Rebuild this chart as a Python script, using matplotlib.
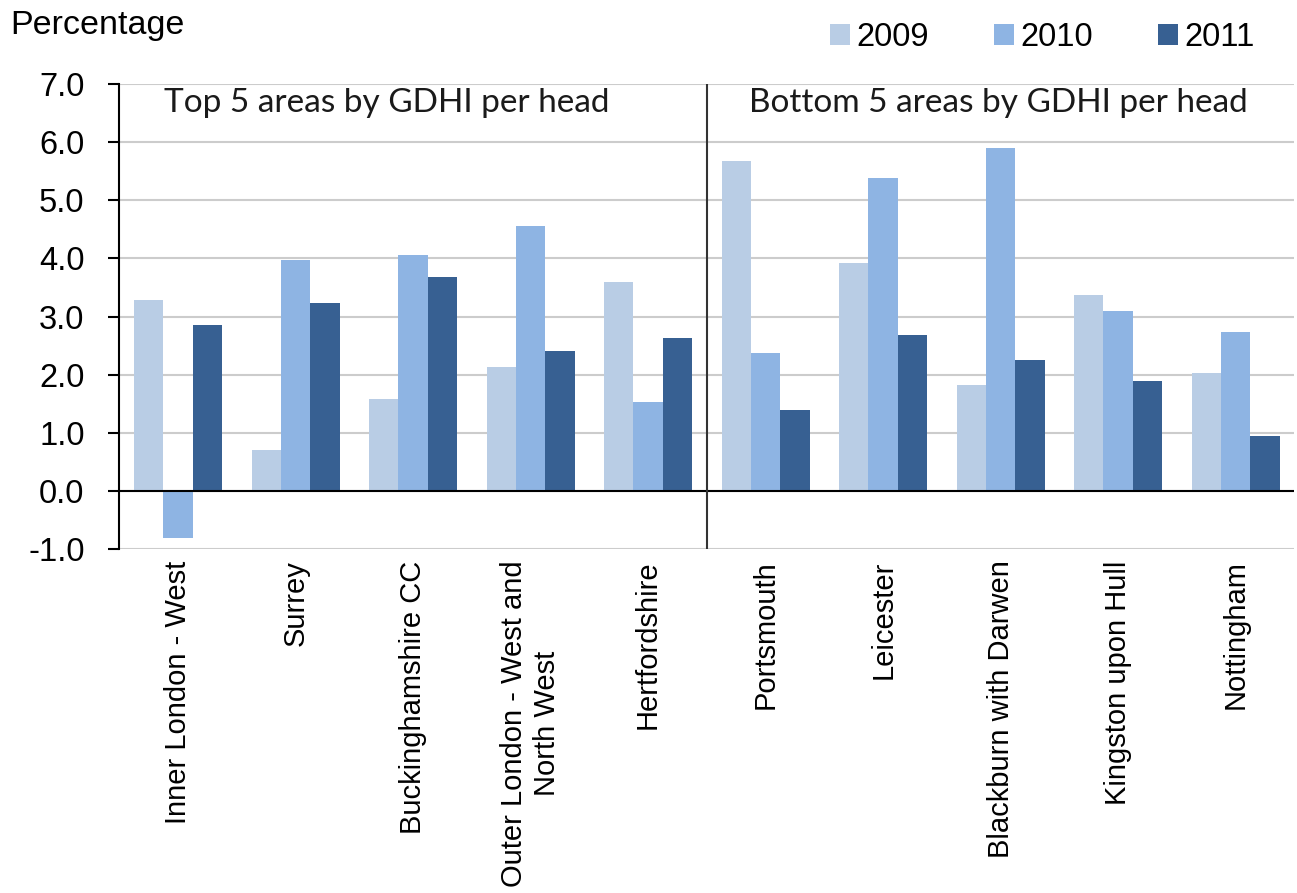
import numpy as np
import matplotlib.pyplot as plt

areas = ['Inner London - West', 'Surrey', 'Buckinghamshire CC',
         'Outer London - West and\nNorth West', 'Hertfordshire',
         'Portsmouth', 'Leicester', 'Blackburn with Darwen',
         'Kingston upon Hull', 'Nottingham']
years = ['2009', '2010', '2011']
vals_2009 = [3.29, 0.70, 1.58, 2.13, 3.60, 5.68, 3.92, 1.82, 3.37, 2.03]
vals_2010 = [-0.80, 3.97, 4.06, 4.56, 1.53, 2.37, 5.39, 5.90, 3.10, 2.74]
vals_2011 = [2.86, 3.23, 3.68, 2.41, 2.63, 1.39, 2.68, 2.25, 1.89, 0.95]
colors = ['#B9CDE5', '#8EB4E3', '#376092']

plt.rcParams['font.family'] = ['Liberation Sans', 'DejaVu Sans']

fig = plt.figure(figsize=(12.97, 8.93), dpi=100)
ax = fig.add_axes([0.092, 0.385, 0.906, 0.521])

x = np.arange(len(areas))
w = 0.25
for k, (vals, yr) in enumerate(zip([vals_2009, vals_2010, vals_2011], years)):
    ax.bar(x + (k - 1) * w, vals, w, color=colors[k], label=yr, zorder=3)

ax.set_xlim(-0.5, len(areas) - 0.5)
ax.set_ylim(-1, 7)
ax.set_yticks(np.arange(-1, 8, 1))
ax.set_yticklabels([f'{v:.1f}' for v in np.arange(-1, 8, 1)], fontsize=23.5)
ax.tick_params(axis='y', direction='out', length=8, width=1.5, pad=17)
ax.yaxis.grid(True, color='#CCCCCC', lw=1.5, zorder=0)
ax.set_xticks(x)
ax.set_xticklabels(areas, rotation=90, fontsize=21, va='top')
ax.tick_params(axis='x', length=0, pad=8)

for s in ['top', 'right', 'bottom']:
    ax.spines[s].set_visible(False)
ax.spines['left'].set_linewidth(1.5)
ax.axhline(0, color='black', lw=1.5, zorder=4)
ax.axvline(4.5, color='#333333', lw=1.5, zorder=4)

ax.text(-0.12, 6.67, 'Top 5 areas by GDHI per head', ha='left', va='center',
        fontsize=24, family='Lato', color='#1a1a1a')
ax.text(4.86, 6.67, 'Bottom 5 areas by GDHI per head', ha='left', va='center',
        fontsize=24, family='Lato', color='#1a1a1a')

fig.text(0.008, 0.972, 'Percentage', fontsize=24.5, va='center', ha='left')
fig.legend(loc='center right', bbox_to_anchor=(0.99, 0.958), ncol=3, frameon=False,
           fontsize=23.5, handlelength=0.6, handleheight=0.6, handletextpad=0.2,
           columnspacing=2.0)

fig.savefig('out.png', dpi=100)
